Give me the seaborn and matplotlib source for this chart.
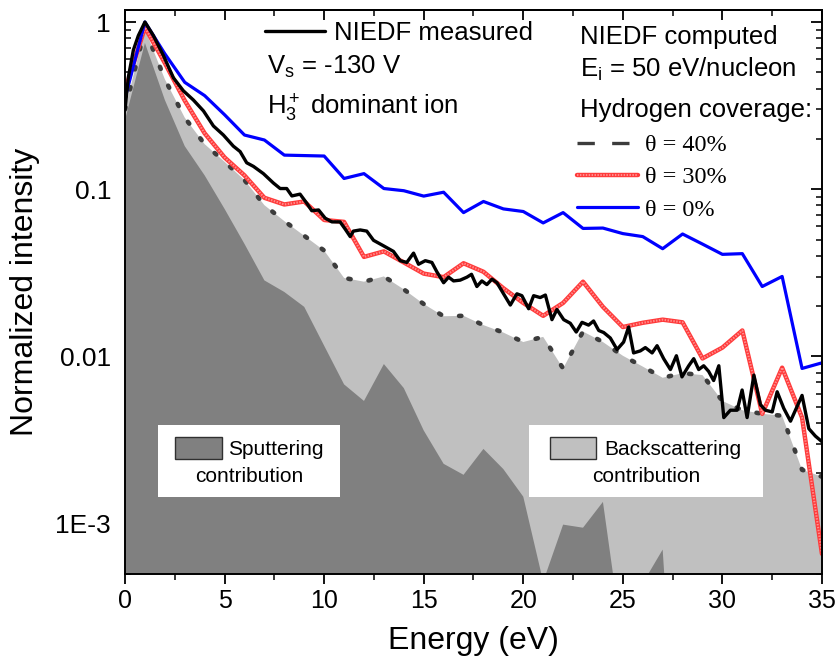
import numpy as np
import pandas as pd
import matplotlib
matplotlib.use("Agg")
import matplotlib.pyplot as plt
import seaborn as sns
from matplotlib.lines import Line2D
from matplotlib.patches import Rectangle
from matplotlib.ticker import LogLocator, MultipleLocator, NullFormatter
from matplotlib.legend_handler import HandlerTuple

# ---------------- data ----------------
energy = list(range(0, 36))  # eV, computed NIEDF grid

theta0 = [0.35, 1.00, 0.646, 0.436, 0.363, 0.279, 0.211, 0.197, 0.160, 0.159,
          0.158, 0.116, 0.124, 0.101, 0.098, 0.091, 0.096, 0.0725, 0.0845, 0.0763,
          0.0736, 0.0629, 0.0725, 0.0583, 0.0586, 0.0543, 0.0521, 0.0441, 0.054, 0.047,
          0.0408, 0.0412, 0.0262, 0.0301, 0.00848, 0.00916]

theta30 = [0.39, 0.93, 0.569, 0.339, 0.216, 0.155, 0.121, 0.0889, 0.0811, 0.0845,
           0.0655, 0.0638, 0.0394, 0.0425, 0.0365, 0.0313, 0.0298, 0.0361, 0.0321, 0.0256,
           0.0209, 0.0175, 0.0209, 0.028, 0.0198, 0.0150, 0.0159, 0.0166, 0.0160, 0.00973,
           0.0113, 0.0143, 0.00454, 0.00857, 0.00431, 0.00066]

theta40 = [0.30, 0.91, 0.455, 0.268, 0.186, 0.146, 0.1135, 0.0803, 0.0645, 0.0527,
           0.0430, 0.0295, 0.0280, 0.0301, 0.0252, 0.0206, 0.0174, 0.0175, 0.0154, 0.0139,
           0.0122, 0.0131, 0.00848, 0.0141, 0.0122, 0.0101, 0.0087, 0.00746, 0.00794, 0.00774,
           0.00542, 0.00477, 0.00454, 0.00442, 0.00210, 0.00191]

sputtering = [0.26, 0.75, 0.342, 0.181, 0.121, 0.0763, 0.0471, 0.0285, 0.0243, 0.0198,
              0.0116, 0.00681, 0.00542, 0.00901, 0.00647, 0.00361, 0.00228, 0.00196, 0.0028, 0.00212,
              0.00145, 0.00045, 0.000987, 0.000946, 0.00135, 0.00019, 0.00044, 0.00070, 1e-5, 1e-5,
              1e-5, 1e-5, 1e-5, 1e-5, 1e-5, 1e-5]

meas_energy = [0.0, 0.17, 0.42, 0.67, 1.0, 1.42, 1.93, 2.43, 2.93, 3.43,
               3.94, 4.44, 4.94, 5.44, 5.78, 6.11, 6.45, 6.95, 7.45, 7.79,
               8.12, 8.38, 8.79, 9.13, 9.38, 9.72, 10.05, 10.39, 10.80, 11.06,
               11.31, 11.47, 11.81, 12.14, 12.48, 12.98, 13.48, 13.82, 14.15, 14.49,
               14.74, 15.08, 15.41, 15.66, 16.0, 16.25, 16.50, 16.83, 17.17, 17.40,
               17.67, 17.92, 18.17, 18.43, 18.68, 19.01, 19.35, 19.68, 19.93, 20.27,
               20.52, 20.85, 21.11, 21.44, 21.69, 22.03, 22.36, 22.66, 22.95, 23.28,
               23.53, 23.79, 24.04, 24.37, 24.71, 25.04, 25.29, 25.54, 25.88, 26.13,
               26.47, 26.72, 27.05, 27.39, 27.69, 27.97, 28.31, 28.56, 28.81, 29.06,
               29.31, 29.56, 29.82, 30.07, 30.40, 30.74, 30.99, 31.24, 31.58, 31.91,
               32.16, 32.50, 32.75, 33.08, 33.42, 34.0, 34.34, 34.67, 34.99]

meas_intensity = [0.30, 0.47, 0.68, 0.83, 1.0, 0.832, 0.63, 0.464, 0.388, 0.342,
                  0.294, 0.239, 0.211, 0.181, 0.168, 0.144, 0.137, 0.124, 0.109, 0.101,
                  0.101, 0.0912, 0.0935, 0.0824, 0.0744, 0.0752, 0.0672, 0.0638, 0.0638, 0.0577,
                  0.0521, 0.0562, 0.0571, 0.0562, 0.0495, 0.0459, 0.0425, 0.0374, 0.0365, 0.0415,
                  0.0356, 0.0374, 0.0365, 0.0321, 0.0276, 0.0298, 0.0283, 0.0286, 0.0298, 0.0310,
                  0.0262, 0.0283, 0.0269, 0.0290, 0.0276, 0.0237, 0.0203, 0.0237, 0.0231, 0.0193,
                  0.0231, 0.0225, 0.0233, 0.0166, 0.0191, 0.0166, 0.0158, 0.0140, 0.0160, 0.0154,
                  0.0163, 0.0143, 0.0139, 0.0129, 0.0110, 0.0122, 0.0150, 0.0105, 0.0108, 0.0113,
                  0.0105, 0.0116, 0.0097, 0.00835, 0.0101, 0.00755, 0.0088, 0.0097, 0.00835, 0.0088,
                  0.00814, 0.00718, 0.0088, 0.00431, 0.00477, 0.00477, 0.0063, 0.00431, 0.00774, 0.00515,
                  0.00477, 0.00466, 0.00615, 0.0049, 0.0041, 0.00585, 0.0037, 0.00334, 0.0031]

xticks = [0, 5, 10, 15, 20, 25, 30, 35]
yticks = [1e-3, 1e-2, 1e-1, 1]
ytick_labels = ["1E-3", "0.01", "0.1", "1"]
Y_MIN, Y_MAX = 5e-4, 1.18

computed = pd.DataFrame({"energy": energy, "theta0": theta0, "theta30": theta30,
                         "theta40": theta40, "sputtering": sputtering})
measured = pd.DataFrame({"energy": meas_energy, "intensity": meas_intensity})

# ---------------- style ----------------
sns.set_style("ticks")
plt.rcParams["font.family"] = ["Liberation Sans", "DejaVu Sans"]
plt.rcParams["mathtext.fontset"] = "custom"
plt.rcParams["mathtext.rm"] = "Liberation Sans"
plt.rcParams["mathtext.it"] = "Liberation Sans:italic"
plt.rcParams["axes.linewidth"] = 1.4
for key in ["text.color", "axes.labelcolor", "xtick.color", "ytick.color",
            "axes.edgecolor", "xtick.labelcolor", "ytick.labelcolor"]:
    plt.rcParams[key] = "black"

fig = plt.figure(figsize=(8.39, 6.68), dpi=100)
ax = fig.add_axes([0.149, 0.1407, 0.8307, 0.8443])
ax.set_yscale("log")

BLUE = "#0000ff"
RED = "#ff3a3a"
RED_IN = "#ff8c8c"
DOT = "#3c3c3c"
LIGHT = "#c0c0c0"
DARK = "#808080"

# fills (drawn above the axis ticks, like the original)
ax.fill_between(computed["energy"], Y_MIN * 0.1, computed["theta40"], color=LIGHT, lw=0, zorder=2.6)
ax.fill_between(computed["energy"], Y_MIN * 0.1, computed["sputtering"], color=DARK, lw=0, zorder=2.7)

sns.lineplot(data=computed, x="energy", y="theta40", ax=ax, color=DOT, lw=3.3,
             linestyle=(0, (0.5, 4.0)), dash_capstyle="round", estimator=None, zorder=3)
sns.lineplot(data=computed, x="energy", y="theta30", ax=ax, color=RED, lw=3.2,
             estimator=None, zorder=3.2)
sns.lineplot(data=computed, x="energy", y="theta30", ax=ax, color=RED_IN, lw=1.5,
             linestyle=(0, (0.7, 0.7)), estimator=None, zorder=3.3)
sns.lineplot(data=measured, x="energy", y="intensity", ax=ax, color="black", lw=2.4,
             estimator=None, zorder=3.5)
sns.lineplot(data=computed, x="energy", y="theta0", ax=ax, color=BLUE, lw=2.3,
             estimator=None, zorder=3.4)

for sp in ax.spines.values():
    sp.set_zorder(5)
    sp.set_visible(True)
    sp.set_color("black")

ax.set_xlim(0, 35)
ax.set_ylim(Y_MIN, Y_MAX)
ax.set_xticks(xticks)
ax.set_xticklabels([str(t) for t in xticks])
ax.xaxis.set_minor_locator(MultipleLocator(2.5))
ax.set_yticks(yticks)
ax.set_yticklabels(ytick_labels)
ax.yaxis.set_minor_locator(LogLocator(base=10, subs=np.arange(2, 10)))
ax.yaxis.set_minor_formatter(NullFormatter())

ax.tick_params(axis="x", which="major", direction="out", length=7, width=1.3,
               labelsize=18, pad=4, top=False, colors="black")
ax.tick_params(axis="x", which="minor", direction="out", length=4, width=1.1, top=False)
ax.tick_params(axis="y", which="major", direction="in", length=8, width=1.3,
               labelsize=19, pad=10, right=True, colors="black")
ax.tick_params(axis="y", which="minor", direction="in", length=4.5, width=1.1, right=True)

top = ax.secondary_xaxis("top")
top.set_xticks(xticks)
top.xaxis.set_minor_locator(MultipleLocator(2.5))
top.tick_params(axis="x", which="major", direction="in", length=7, width=1.3, labeltop=False)
top.tick_params(axis="x", which="minor", direction="in", length=4, width=1.1)
top.spines["top"].set_linewidth(1.4)

ax.set_xlabel("Energy (eV)", fontsize=23, labelpad=9, color="black")
ax.set_ylabel("Normalized intensity", fontsize=23, labelpad=11, color="black")

# ---------------- annotations / legends ----------------
leg1 = ax.legend(handles=[Line2D([], [], color="black", lw=2.4)], labels=["NIEDF measured"],
                 loc="center left", bbox_to_anchor=(0.2009, 0.9592), frameon=False,
                 fontsize=18.5, handlelength=2.35, handletextpad=0.32, borderpad=0,
                 borderaxespad=0, labelcolor="black")
leg1.set_zorder(6)
ax.add_artist(leg1)

TXT = dict(transform=ax.transAxes, fontsize=18.5, va="baseline", ha="left", zorder=6, color="black")
ax.text(0.2037, 0.8865, r"V$_{\mathregular{s}}$ = -130 V", **TXT)
ax.text(0.2037, 0.8156, r"H$_3^+$ dominant ion", **TXT)
ax.text(0.6528, 0.9397, "NIEDF computed", **TXT)
ax.text(0.6528, 0.8812, r"E$_{\mathregular{i}}$ = 50 eV/nucleon", **TXT)
ax.text(0.6528, 0.8103, "Hydrogen coverage:", **TXT)

h40 = Line2D([], [], color=DOT, lw=2.4, linestyle=(0, (5.2, 5.2)))
h30 = (Line2D([], [], color=RED, lw=3.2), Line2D([], [], color=RED_IN, lw=1.5, linestyle=(0, (0.7, 0.7))))
h0 = Line2D([], [], color=BLUE, lw=2.3)
leg2 = ax.legend(handles=[h40, h30, h0], labels=["θ = 40%", "θ = 30%", "θ = 0%"],
                 handler_map={tuple: HandlerTuple(ndivide=1)},
                 loc="upper left", bbox_to_anchor=(0.6485, 0.780), frameon=False,
                 prop={"family": "Liberation Serif", "size": 17.5},
                 handlelength=2.5, handletextpad=0.3, labelspacing=0.42,
                 borderpad=0, borderaxespad=0, labelcolor="black")
leg2.set_zorder(6)

# contribution boxes
def contribution_box(x0, x1, px0, px1, tx1, tx2, first, second, color):
    ax.add_patch(Rectangle((x0, 0.1365), x1 - x0, 0.2642 - 0.1365, transform=ax.transAxes,
                           facecolor="white", edgecolor="none", zorder=6))
    ax.add_patch(Rectangle((px0, 0.2039), px1 - px0, 0.2429 - 0.2039, transform=ax.transAxes,
                           facecolor=color, edgecolor="#303030", lw=1.0, zorder=7))
    ax.text(tx1, 0.2110, first, transform=ax.transAxes, fontsize=15,
            va="baseline", ha="left", zorder=7, color="black")
    ax.text(tx2, 0.1637, second, transform=ax.transAxes, fontsize=15,
            va="baseline", ha="left", zorder=7, color="black")

contribution_box(0.0473, 0.3085, 0.0717, 0.1392, 0.1478, 0.1004,
                 "Sputtering", "contribution", DARK)
contribution_box(0.5796, 0.9154, 0.6098, 0.6758, 0.6872, 0.6696,
                 "Backscattering", "contribution", LIGHT)

fig.savefig("out.png", dpi=100)
